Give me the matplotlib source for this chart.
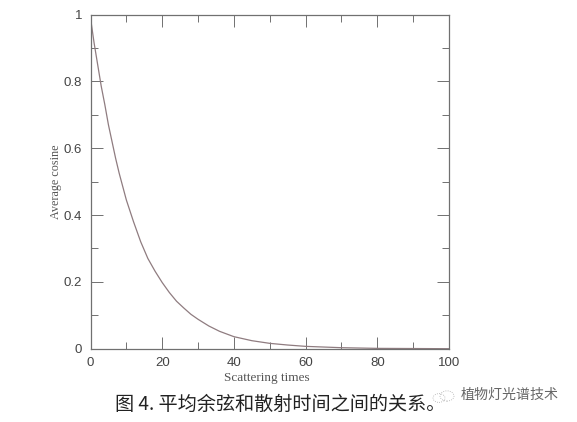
import matplotlib
matplotlib.use("Agg")
import matplotlib.pyplot as plt
from matplotlib.patches import Circle
from matplotlib.ticker import MultipleLocator

# values
times = [0, 1, 2, 3, 4, 5, 6, 7, 8, 9, 10, 12, 14, 16, 18, 20, 22, 24, 26, 28, 30, 33, 36, 40, 45, 50, 55, 60,
         70, 80, 100]
cosine = [0.99, 0.915, 0.85, 0.785, 0.73, 0.67, 0.62, 0.57, 0.525, 0.485, 0.445, 0.38, 0.32, 0.27, 0.232, 0.198,
          0.168, 0.142, 0.122, 0.103, 0.088, 0.068, 0.052, 0.036, 0.024, 0.016, 0.011, 0.007, 0.003, 0.001, 0]
xticks = [0, 20, 40, 60, 80, 100]
yticks = [0, 0.2, 0.4, 0.6, 0.8, 1]
ylabels = ["0", "0.2", "0.4", "0.6", "0.8", "1"]

W, H = 577, 422
grey = "#707070"

fig = plt.figure(figsize=(W / 100, H / 100), dpi=100)
ax = fig.add_axes([90.5 / W, 1 - 348.7 / H, 358.5 / W, 334.2 / H])
ax.plot(times, cosine, color="#8f7c80", lw=0.9)
ax.set_xlim(0, 100)
ax.set_ylim(0, 1)

ax.set_xticks(xticks)
ax.set_yticks(yticks, ylabels)
ax.xaxis.set_minor_locator(MultipleLocator(10))
ax.yaxis.set_minor_locator(MultipleLocator(0.1))
ax.tick_params(which="major", direction="in", top=True, right=True, length=8.5, width=0.7, color=grey,
               labelsize=9.5, labelcolor="#444444", pad=6)
ax.tick_params(which="minor", direction="in", top=True, right=True, length=5, width=0.7, color=grey)
for lab in ax.get_xticklabels() + ax.get_yticklabels():
    lab.set_family("Liberation Sans")
for s in ax.spines.values():
    s.set_color(grey)
    s.set_linewidth(0.9)

ax.set_xlabel("Scattering times", family="Liberation Serif", fontsize=9.5, color="#555555", labelpad=2, x=0.493)
ax.set_ylabel("Average cosine", family="Liberation Serif", fontsize=8.7, color="#555555", labelpad=1)

fig.text(115 / W, 1 - 404 / H, "图 4. 平均余弦和散射时间之间的关系。", family=["Noto Sans CJK SC", "DejaVu Sans"],
         fontsize=13.8, color="#222222", va="center", weight="light")
fig.text(461 / W, 1 - 395 / H, "植物灯光谱技术", family=["Noto Sans CJK SC", "DejaVu Sans"],
         fontsize=10.1, color="#666666", va="center")

# watermark icon
for cx, cy, r in [(439, 398, 6), (447, 396, 7)]:
    fig.add_artist(Circle((cx / W, 1 - cy / H), r / W, transform=fig.transFigure, fill=False, ec="#aaaaaa",
                          lw=0.6, ls=":"))

fig.savefig("out.png", dpi=100)
